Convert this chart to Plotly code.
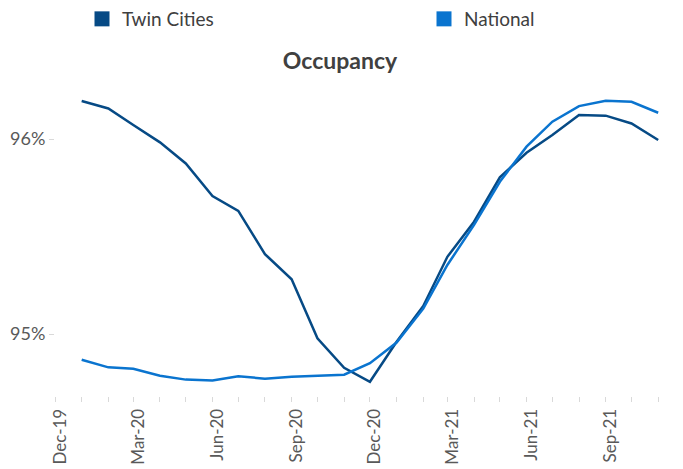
import plotly.graph_objects as go
import pandas as pd

months = pd.date_range("2020-01-01", "2021-11-01", freq="MS")
twin_cities = [96.195, 96.157, 96.072, 95.983, 95.875, 95.708, 95.632, 95.41, 95.281,
               94.978, 94.827, 94.755, 94.96, 95.144, 95.396, 95.576, 95.804, 95.93,
               96.021, 96.123, 96.12, 96.08, 95.995]
national = [94.868, 94.829, 94.822, 94.786, 94.766, 94.761, 94.783, 94.771, 94.781,
            94.785, 94.791, 94.85, 94.956, 95.13, 95.354, 95.56, 95.781, 95.961,
            96.089, 96.169, 96.196, 96.191, 96.135]
y_ticks = [95, 96]
y_labels = ["95%", "96%"]

C_TWIN = "#064A85"
C_NAT = "#0A74CF"
FONT = "Lato, 'Open Sans', sans-serif"

# page body margin (8px) shifts the figure; compensate in layout
W, H = 676, 461
L, R, T, B = 47, 0, 72, 73
PW = W - L - R
PH = H - T - B

fig = go.Figure()
fig.add_trace(go.Scatter(x=months, y=twin_cities, mode="lines", name="Twin Cities",
                         line=dict(color=C_TWIN, width=2.5), showlegend=False))
fig.add_trace(go.Scatter(x=months, y=national, mode="lines", name="National",
                         line=dict(color=C_NAT, width=2.5), showlegend=False))
fig.add_trace(go.Scatter(x=[None], y=[None], mode="markers", name="Twin Cities",
                         marker=dict(symbol="square", size=15, color=C_TWIN), legend="legend"))
fig.add_trace(go.Scatter(x=[None], y=[None], mode="markers", name="National",
                         marker=dict(symbol="square", size=15, color=C_NAT), legend="legend2"))

leg_common = dict(orientation="h", xref="paper", yref="paper", xanchor="left",
                  yanchor="top", y=1 + 80/PH, bgcolor="rgba(0,0,0,0)",
                  font=dict(size=19, color="#404040", family=FONT), itemwidth=30)

fig.update_layout(
    width=W, height=H,
    margin=dict(l=L, r=R, t=T, b=B, autoexpand=False),
    paper_bgcolor="white", plot_bgcolor="white",
    font=dict(family=FONT, color="#595959", size=16),
    title=dict(text="<b>Occupancy</b>", x=332/W, xanchor="center", xref="container",
               y=1 - 53/H, yanchor="middle",
               font=dict(size=23, color="#404040", family=FONT)),
    legend=dict(leg_common, x=(94 - L - 20)/PW),
    legend2=dict(leg_common, x=(436 - L - 20)/PW),
    showlegend=True,
)
fig.update_xaxes(
    type="date", automargin=False,
    range=["2019-12-01", "2021-12-01"],
    dtick="M3", tick0="2019-12-01", tickformat="%b-%y", tickangle=-90,
    ticks="outside", ticklen=5, tickcolor="#d9d9d9", ticklabelshift=5,
    ticklabeloverflow="allow",
    minor=dict(dtick="M1", ticks="outside", ticklen=5, tickcolor="#d9d9d9"),
    showgrid=False, showline=False, zeroline=False,
    tickfont=dict(size=17, color="#595959"),
)
fig.update_yaxes(
    automargin=False,
    range=[94.682, 96.303],
    tickvals=y_ticks, ticktext=y_labels,
    ticks="outside", ticklen=5, tickcolor="#d9d9d9",
    showgrid=False, showline=False, zeroline=False,
    tickfont=dict(size=18, color="#595959"),
)
fig.write_html("out.html")
